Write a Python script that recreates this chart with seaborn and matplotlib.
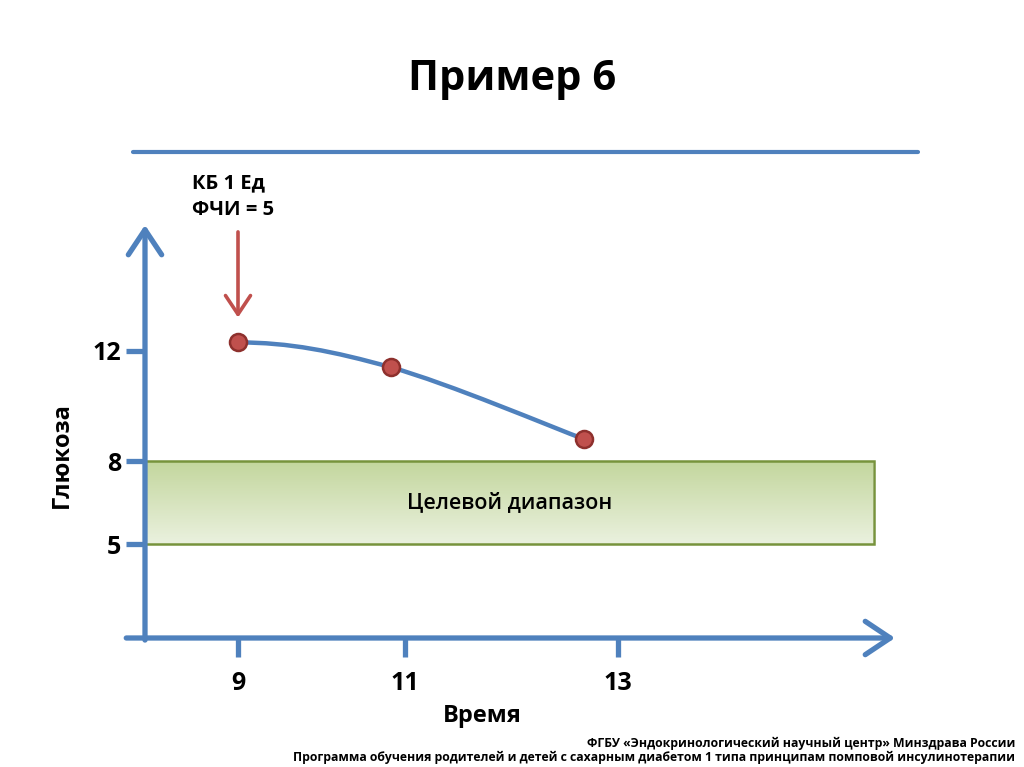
import numpy as np
import matplotlib
matplotlib.use("Agg")
import matplotlib.pyplot as plt
import seaborn as sns
from matplotlib.path import Path
from matplotlib.patches import PathPatch, Rectangle
from matplotlib.lines import Line2D
from matplotlib.colors import LinearSegmentedColormap

# chart values
time = [9, 10.83, 12.68]
glucose = [12.3, 11.4, 8.8]
x_ticks = [9, 11, 13]
y_ticks = [5, 8, 12]
target_low, target_high = 5, 8
target_end = 15.4
bolus_time = 9

BLUE = "#4F81BD"
RED = "#C0504D"

sns.set_theme(style="white")
plt.rcParams["font.family"] = ["Open Sans", "DejaVu Sans"]
plt.rcParams["text.color"] = "black"


# the slide spaces the time ticks unevenly, so piecewise-linear x scale
def fwd(x):
    x = np.asarray(x, float)
    return np.where(x < 11, 238 + (x - 9) * 83.5, 405 + (x - 11) * 106.5)


def inv(u):
    u = np.asarray(u, float)
    return np.where(u < 405, 9 + (u - 238) / 83.5, 11 + (u - 405) / 106.5)


fig = plt.figure(figsize=(10.24, 7.67), dpi=100)
ax = fig.add_axes([145 / 1024, 1 - 638 / 767, 750 / 1024, 413 / 767])
ax.set_xscale("function", functions=(fwd, inv))
x0, x1 = float(inv(145)), float(inv(895))
ax.set_xlim(x0, x1)
ax.set_ylim(1.6, 16.55)

# target range box with a vertical gradient
cmap = LinearSegmentedColormap.from_list("g", ["#C3D69D", "#EAF1DE"])
grad = np.linspace(0, 1, 100).reshape(-1, 1)
ax.imshow(grad, cmap=cmap, aspect="auto", origin="upper",
          extent=(x0, target_end, target_low, target_high), zorder=1)
ax.add_patch(Rectangle((x0, target_low), target_end - x0, target_high - target_low,
                       fill=False, ec="#77933C", lw=1.8, zorder=2))
mid = float(inv((fwd(x0) + fwd(target_end)) / 2))
ax.text(mid, (target_low + target_high) / 2, "Целевой диапазон", ha="center",
        va="center", fontsize=15.5, fontweight="semibold", color="black", zorder=3)

# smooth curve through the points (Catmull-Rom as cubic Bezier in scaled space)
u = fwd(time)
pts = np.column_stack([u, glucose])
ext = np.vstack([pts[0], pts, pts[-1]])
verts = [tuple(pts[0])]
codes = [Path.MOVETO]
for i in range(len(pts) - 1):
    p0, p1, p2, p3 = ext[i], ext[i + 1], ext[i + 2], ext[i + 3]
    c1 = p1 + (p2 - p0) / 6
    c2 = p2 - (p3 - p1) / 6
    if i == 0:
        c1 = np.array([p1[0] + (p2[0] - p1[0]) / 3, p1[1]])
    verts += [tuple(c1), tuple(c2), tuple(p2)]
    codes += [Path.CURVE4] * 3
verts = [(float(inv(a)), b) for a, b in verts]
ax.add_patch(PathPatch(Path(verts, codes), fill=False, ec=BLUE, lw=3.2,
                       capstyle="round", zorder=4))

sns.scatterplot(x=time, y=glucose, ax=ax, s=150, color=RED, edgecolor="#8E302D",
                linewidth=1.8, zorder=5, legend=False)

# axes drawn as arrows
for sp in ax.spines.values():
    sp.set_visible(False)
arrow = dict(arrowstyle="->,head_length=0.45,head_width=0.3", color=BLUE, lw=3.8,
             shrinkA=0, shrinkB=0, mutation_scale=40)
ax.annotate("", xy=(1, 0), xytext=(-0.025, 0), xycoords="axes fraction",
            textcoords="axes fraction", arrowprops=arrow, annotation_clip=False)
ax.annotate("", xy=(0, 1), xytext=(0, -0.005), xycoords="axes fraction",
            textcoords="axes fraction", arrowprops=arrow, annotation_clip=False)

ax.set_xticks(x_ticks)
ax.set_xticklabels([str(v) for v in x_ticks])
ax.set_yticks(y_ticks)
ax.set_yticklabels([str(v) for v in y_ticks])
ax.minorticks_off()
ax.tick_params(axis="both", direction="out", length=14, width=3.8, color=BLUE,
               labelsize=18, labelcolor="black", bottom=True, left=True)
ax.tick_params(axis="x", pad=10)
ax.tick_params(axis="y", pad=3)
for lab in ax.get_xticklabels() + ax.get_yticklabels():
    lab.set_fontweight("bold")

# bolus arrow and note
ax.annotate("", xy=(bolus_time, 13.2), xytext=(bolus_time, 16.3),
            arrowprops=dict(arrowstyle="->,head_length=0.45,head_width=0.3",
                            color=RED, lw=2.6, shrinkA=0, shrinkB=0,
                            mutation_scale=30),
            annotation_clip=False)
fig.text(192 / 1024, 1 - 197 / 767, "КБ 1 Ед\nФЧИ = 5", ha="left", va="center",
         fontsize=14.5, fontweight="bold", linespacing=1.45)

# slide decoration
fig.text(0.5, 1 - 80 / 767, "Пример 6", ha="center", va="center", fontsize=30,
         fontweight="bold")
fig.add_artist(Line2D([133 / 1024, 918 / 1024], [1 - 152 / 767] * 2, color=BLUE, lw=3))
fig.text(62 / 1024, 1 - 455 / 767, "Глюкоза", rotation=90, ha="center", va="center",
         fontsize=17, fontweight="bold")
fig.text(482 / 1024, 1 - 716 / 767, "Время", ha="center", va="center",
         fontsize=17, fontweight="bold")
fig.text(1015 / 1024, 1 - 743 / 767,
         "ФГБУ «Эндокринологический научный центр» Минздрава России",
         ha="right", va="center", fontsize=8.8, fontweight="bold")
fig.text(1015 / 1024, 1 - 757 / 767,
         "Программа обучения родителей и детей с сахарным диабетом 1 типа "
         "принципам помповой инсулинотерапии",
         ha="right", va="center", fontsize=8.8, fontweight="bold")

fig.savefig("out.png", dpi=100)
